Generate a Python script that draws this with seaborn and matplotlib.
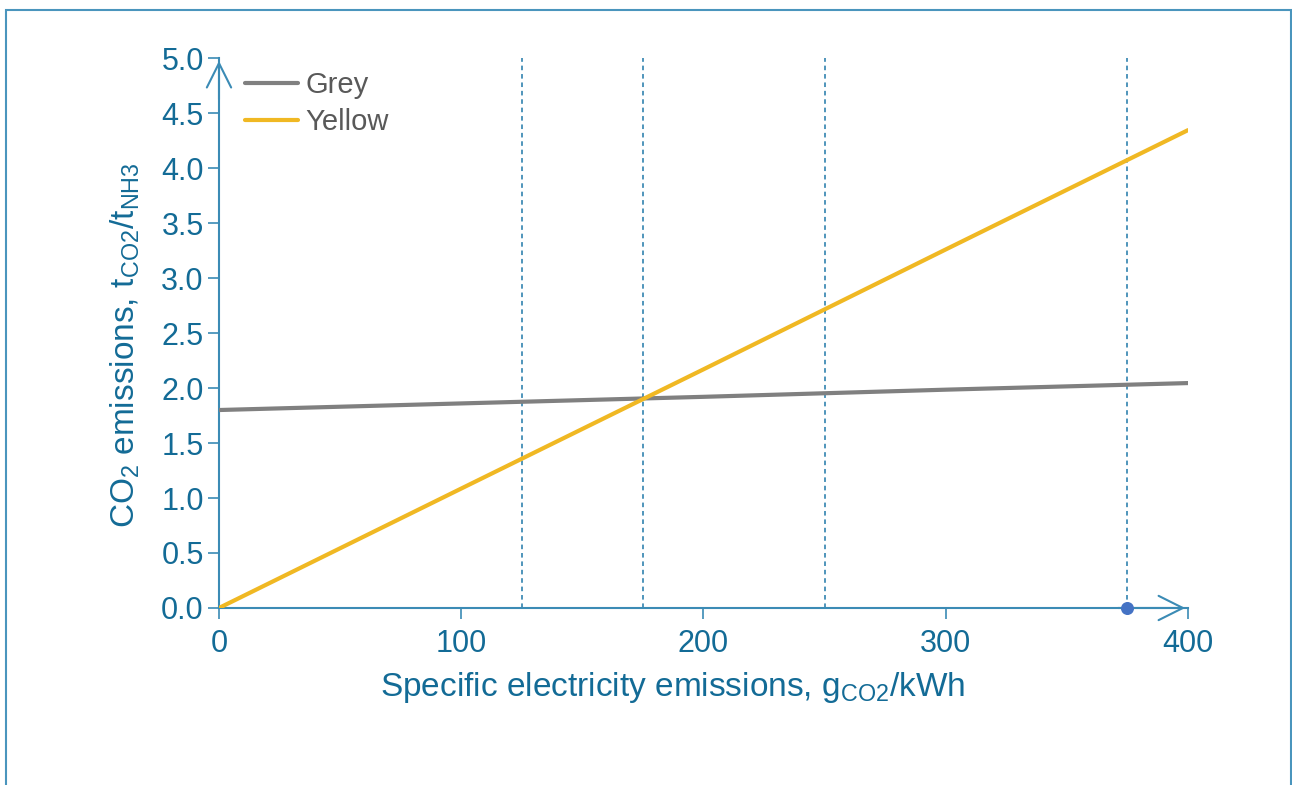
import pandas as pd
import matplotlib.pyplot as plt
import seaborn as sns
from matplotlib.patches import Rectangle

# data
elec = [0, 100, 200, 300, 400]
grey = [1.80, 1.86, 1.92, 1.985, 2.045]
yellow = [0.0, 1.086, 2.17, 3.26, 4.345]
marks = [125, 175, 250, 375]
dot_x = [375]
dot_y = [0.0]

axis_col = '#3B8BB5'
text_col = '#136B96'
dash_col = '#1F78A8'

df = pd.DataFrame({'x': elec * 2,
                   'y': grey + yellow,
                   'kind': ['Grey'] * len(elec) + ['Yellow'] * len(elec)})

sns.set_style('white')
plt.rcParams['font.family'] = ['Liberation Sans', 'DejaVu Sans']
plt.rcParams['mathtext.fontset'] = 'custom'
plt.rcParams['mathtext.rm'] = 'Liberation Sans'

fig = plt.figure(figsize=(12.92, 7.85), dpi=100)
ax = fig.add_axes([0.1695, 0.2255, 0.75, 0.7005])

for m in marks:
    ax.plot([m, m], [0, 5], ls=(0, (3, 2.5)), color=dash_col, lw=1.1, zorder=1)

sns.lineplot(data=df, x='x', y='y', hue='kind',
             palette={'Grey': '#808080', 'Yellow': '#F0B823'},
             linewidth=3, ax=ax, zorder=3)
ax.scatter(dot_x, dot_y, s=70, color='#4472C4', zorder=5, clip_on=False)

ax.set_xlim(0, 400)
ax.set_ylim(0, 5)
ax.set_xticks(elec)
ax.set_yticks([i * 0.5 for i in range(11)])
ax.set_yticklabels([f'{i * 0.5:.1f}' for i in range(11)])

for s in ['top', 'right']:
    ax.spines[s].set_visible(False)
for s in ['left', 'bottom']:
    ax.spines[s].set_color(axis_col)
    ax.spines[s].set_linewidth(1.5)

ax.annotate('', xy=(0, 5.0), xytext=(0, 4.6), xycoords='data',
            arrowprops=dict(arrowstyle='->,head_length=0.5,head_width=0.25',
                            color=axis_col, lw=1.5, mutation_scale=35),
            annotation_clip=False)
ax.annotate('', xy=(400, 0), xytext=(370, 0), xycoords='data',
            arrowprops=dict(arrowstyle='->,head_length=0.5,head_width=0.25',
                            color=axis_col, lw=1.5, mutation_scale=35),
            annotation_clip=False)

ax.tick_params(axis='both', colors=axis_col, labelcolor=text_col,
               labelsize=22, direction='out', length=8, width=1.2,
               left=True, bottom=True)
ax.tick_params(axis='x', pad=7)
ax.tick_params(axis='y', pad=3)

ax.set_xlabel('Specific electricity emissions, g$_{\\mathregular{CO2}}$/kWh',
              color=text_col, fontsize=24)
ax.set_ylabel('CO$_{\\mathregular{2}}$ emissions, t$_{\\mathregular{CO2}}$/t$_{\\mathregular{NH3}}$',
              color=text_col, fontsize=24)
ax.xaxis.set_label_coords(0.4685, -0.145)
ax.yaxis.set_label_coords(-0.097, 0.478)
ax.xaxis.label.set_va('center')
ax.yaxis.label.set_va('center')

leg = ax.legend(loc='upper left', frameon=False, fontsize=21,
                handlelength=1.8, handletextpad=0.25, labelspacing=0.3,
                bbox_to_anchor=(0.0, 1.024), borderaxespad=0.5)
for t in leg.get_texts():
    t.set_color('#595959')

fig.add_artist(Rectangle((6 / 1292, -0.05), 1285 / 1292, 1.05 - 10 / 785,
                         transform=fig.transFigure, fill=False,
                         edgecolor='#4A95BD', lw=1.5))

fig.savefig('out.png', dpi=100)
